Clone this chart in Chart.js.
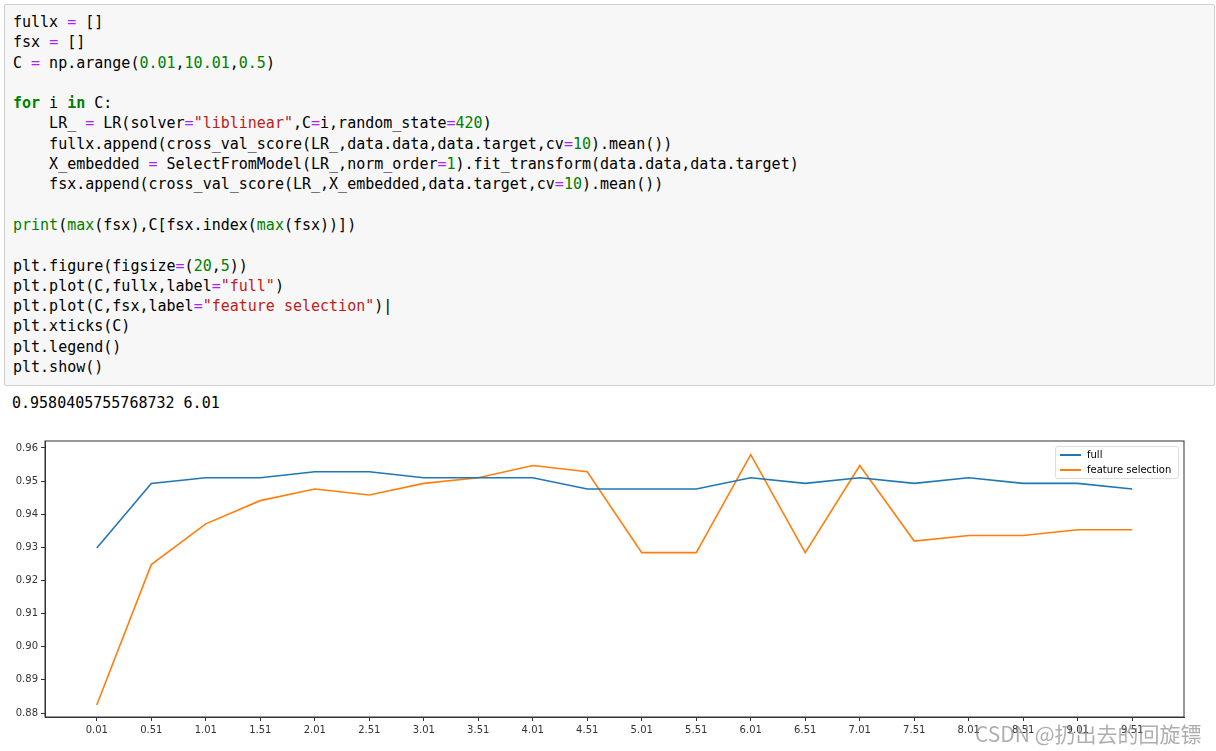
<!DOCTYPE html>
<html>
<head>
<meta charset="utf-8">
<script src="https://cdn.jsdelivr.net/npm/chart.js@4/dist/chart.umd.min.js"></script>
<style>
  body { margin: 0; background: #fff; width: 1216px; height: 751px; overflow: hidden; position: relative; }
  .cell { position: absolute; left: 4px; top: 4px; width: 1209px; height: 380px; background: #f7f7f7; border: 1px solid #cfcfcf; border-radius: 2px; }
  pre { margin: 0; padding: 7px 0 0 8px; font: 15px/20.3px "DejaVu Sans Mono", monospace; color: #000; }
  .o { color: #aa22ff; } .n { color: #008000; } .k { color: #008000; font-weight: bold; } .s { color: #ba2121; }
  .out { position: absolute; left: 12px; top: 394px; font: 15px "DejaVu Sans Mono", monospace; }
  #wrap { position: absolute; left: 0; top: 432px; width: 1200px; height: 319px; }
  .legend { position: absolute; left: 1055px; top: 446px; width: 122px; height: 31px; border: 1px solid #ddd; border-radius: 3px; background: rgba(255,255,255,0.8); font: 10px "DejaVu Sans", sans-serif; white-space: nowrap; }
  .legend div { height: 15px; line-height: 15px; padding-left: 31px; position: relative; }
  .legend span { position: absolute; left: 4px; top: 7px; width: 21px; height: 2px; }
  .wm { position: absolute; left: 975px; top: 718px; font: 21px "Noto Sans CJK SC", sans-serif; color: rgba(130,130,130,0.65); white-space: nowrap; }
</style>
</head>
<body>
<div class="cell"><pre>fullx <span class="o">=</span> []
fsx <span class="o">=</span> []
C <span class="o">=</span> np.arange(<span class="n">0.01</span>,<span class="n">10.01</span>,<span class="n">0.5</span>)

<span class="k">for</span> i <span class="k">in</span> C:
    LR_ <span class="o">=</span> LR(solver<span class="o">=</span><span class="s">"liblinear"</span>,C<span class="o">=</span>i,random_state<span class="o">=</span><span class="n">420</span>)
    fullx.append(cross_val_score(LR_,data.data,data.target,cv<span class="o">=</span><span class="n">10</span>).mean())
    X_embedded <span class="o">=</span> SelectFromModel(LR_,norm_order<span class="o">=</span><span class="n">1</span>).fit_transform(data.data,data.target)
    fsx.append(cross_val_score(LR_,X_embedded,data.target,cv<span class="o">=</span><span class="n">10</span>).mean())

<span class="n">print</span>(<span class="n">max</span>(fsx),C[fsx.index(<span class="n">max</span>(fsx))])

plt.figure(figsize<span class="o">=</span>(<span class="n">20</span>,<span class="n">5</span>))
plt.plot(C,fullx,label<span class="o">=</span><span class="s">"full"</span>)
plt.plot(C,fsx,label<span class="o">=</span><span class="s">"feature selection"</span>)|
plt.xticks(C)
plt.legend()
plt.show()</pre></div>
<div class="out">0.9580405755768732 6.01</div>
<div id="wrap"><canvas id="c"></canvas></div>
<div class="legend">
  <div><span style="background:#1f77b4"></span>full</div>
  <div><span style="background:#ff7f0e"></span>feature selection</div>
</div>
<div class="wm">CSDN @扔出去的回旋镖</div>
<script>
const C = [0.01, 0.51, 1.01, 1.51, 2.01, 2.51, 3.01, 3.51, 4.01, 4.51,
  5.01, 5.51, 6.01, 6.51, 7.01, 7.51, 8.01, 8.51, 9.01, 9.51];
const fullx = [0.9298, 0.9493, 0.9510, 0.9510, 0.9528, 0.9528, 0.9510, 0.9510, 0.9510, 0.9476,
  0.9476, 0.9476, 0.9510, 0.9493, 0.9510, 0.9493, 0.9510, 0.9493, 0.9493, 0.9476];
const fsx = [0.8824, 0.9248, 0.9371, 0.9441, 0.9476, 0.9458, 0.9493, 0.9510, 0.9547, 0.9528,
  0.9284, 0.9284, 0.9580, 0.9284, 0.9547, 0.9319, 0.9336, 0.9336, 0.9353, 0.9353];
const yTicks = [0.88, 0.89, 0.90, 0.91, 0.92, 0.93, 0.94, 0.95, 0.96];

const frame = {
  id: 'frame',
  afterDraw(chart) {
    const { ctx, chartArea: a } = chart;
    ctx.save();
    ctx.strokeStyle = '#333';
    ctx.lineWidth = 1;
    ctx.strokeRect(a.left, a.top, a.right - a.left, a.bottom - a.top);
    ctx.restore();
  }
};

const tickFont = { family: 'DejaVu Sans', size: 10 };
new Chart(document.getElementById('c'), {
  type: 'line',
  data: {
    datasets: [
      { label: 'full', data: C.map((x, i) => ({ x, y: fullx[i] })), borderColor: '#1f77b4', borderWidth: 1.6 },
      { label: 'feature selection', data: C.map((x, i) => ({ x, y: fsx[i] })), borderColor: '#ff7f0e', borderWidth: 1.6 }
    ]
  },
  plugins: [frame],
  options: {
    responsive: true,
    maintainAspectRatio: false,
    animation: false,
    elements: { point: { radius: 0 }, line: { tension: 0 } },
    layout: { padding: { top: 8, right: 16, bottom: 12, left: 0 } },
    plugins: { legend: { display: false }, tooltip: { enabled: false } },
    scales: {
      x: {
        type: 'linear', min: -0.465, max: 9.985,
        afterBuildTicks: s => { s.ticks = C.map(v => ({ value: v })); },
        ticks: { autoSkip: false, maxRotation: 0, color: '#333', font: tickFont, callback: v => v.toFixed(2) },
        grid: { drawOnChartArea: false, tickLength: 4, color: '#333' },
        border: { color: '#333' }
      },
      y: {
        min: 0.8788, max: 0.9621,
        afterBuildTicks: s => { s.ticks = yTicks.map(v => ({ value: v })); },
        afterFit: s => { s.width = 45; },
        ticks: { color: '#333', font: tickFont, callback: v => v.toFixed(2) },
        grid: { drawOnChartArea: false, tickLength: 4, color: '#333' },
        border: { color: '#333' }
      }
    }
  }
});
</script>
</body>
</html>
